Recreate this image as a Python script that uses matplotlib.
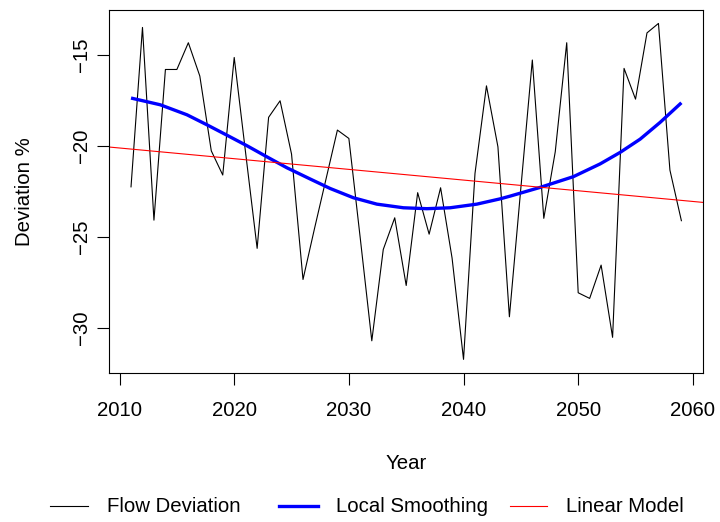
import numpy as np
import matplotlib.pyplot as plt
from matplotlib.lines import Line2D

plt.rcParams['font.family'] = ['Liberation Sans', 'DejaVu Sans']

# flow deviation (%) per year
years = np.arange(2011, 2060)
deviation = [
    -22.24, -13.48, -24.07, -15.79, -15.79, -14.32, -16.15, -20.26, -21.59, -15.13,
    -20.40, -25.62, -18.42, -17.51, -20.44, -27.33, -24.54, -21.83, -19.12, -19.58,
    -25.10, -30.70, -25.68, -23.94, -27.66, -22.56, -24.84, -22.29, -26.15, -31.72,
    -21.50, -16.69, -20.04, -29.38, -22.30, -15.27, -23.97, -20.31, -14.32, -28.06,
    -28.37, -26.54, -30.51, -15.73, -17.42, -13.78, -13.26, -21.32, -24.10,
]

# local smoothing curve
smooth_x = [2011.0, 2013.55, 2015.88, 2017.62, 2019.36, 2021.11, 2022.85, 2024.59,
            2026.63, 2028.37, 2030.40, 2032.44, 2034.76, 2036.80, 2038.83, 2041.16,
            2043.19, 2044.06, 2046.68, 2049.58, 2051.91, 2053.65, 2055.40, 2057.14,
            2059.0]
smooth_y = [-17.36, -17.73, -18.28, -18.83, -19.40, -19.98, -20.59, -21.19,
            -21.81, -22.33, -22.84, -23.19, -23.39, -23.44, -23.39, -23.19,
            -22.90, -22.75, -22.27, -21.68, -20.98, -20.35, -19.62, -18.70,
            -17.62]

labels = ['Flow Deviation', 'Local Smoothing', 'Linear Model']
colors = ['black', 'blue', 'red']
widths = [0.8, 2.4, 0.8]

slope, intercept = np.polyfit(years, deviation, 1)

W, H = 720, 522
fig = plt.figure(figsize=(7.2, 5.22), dpi=100)
ax = fig.add_axes([109 / W, 1 - 372.8 / H, (703.4 - 109) / W, (372.8 - 10) / H])

ax.plot(years, deviation, color=colors[0], lw=widths[0])
ax.plot(smooth_x, smooth_y, color=colors[1], lw=widths[1], solid_capstyle='butt')

# R-style 4% padding
xr = years.max() - years.min()
yr = max(deviation) - min(deviation)
ax.set_xlim(years.min() - 0.04 * xr, years.max() + 0.04 * xr)
ax.set_ylim(min(deviation) - 0.04 * yr, max(deviation) + 0.04 * yr)
xl = np.array(ax.get_xlim())
ax.plot(xl, intercept + slope * xl, color=colors[2], lw=widths[2])

ax.set_xticks(range(2010, 2061, 10))
ax.set_yticks([-15, -20, -25, -30])
ax.set_yticklabels(['\u221215', '\u221220', '\u221225', '\u221230'], rotation=90, va='center')
ax.tick_params(direction='out', length=8.6, width=0.8, labelsize=14.7)
ax.tick_params(axis='x', pad=12)
ax.tick_params(axis='y', pad=4.5)
for s in ax.spines.values():
    s.set_linewidth(0.8)

ax.set_xlabel('Year', fontsize=14.7, labelpad=24)
ax.set_ylabel('Deviation %', fontsize=14.7, labelpad=27)

# legend below the plot, placed like R's horizontal legend
ly = 1 - 506 / H
line_spans = [(50, 88), (279, 318), (510, 547)]
text_x = [107, 336, 566]
for (x0, x1), tx, lab, c, lw in zip(line_spans, text_x, labels, colors, widths):
    fig.add_artist(Line2D([x0 / W, x1 / W], [ly, ly], color=c, lw=lw,
                          transform=fig.transFigure))
    fig.text(tx / W, ly, lab, fontsize=14.7, ha='left', va='center')

fig.savefig('out.png', dpi=100)
